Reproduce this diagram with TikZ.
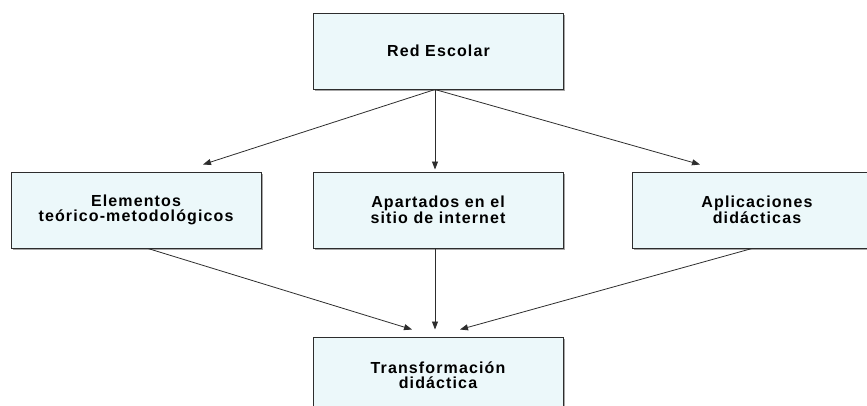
\documentclass[tikz,border=0pt]{standalone}
\usepackage{fontspec}
\setmainfont{Liberation Sans}[LetterSpace=7]
\usetikzlibrary{arrows.meta,calc}
\definecolor{boxfill}{RGB}{236,248,250}
\definecolor{boxline}{RGB}{45,45,45}
\begin{document}
\begin{tikzpicture}[x=1pt,y=1pt,
  box/.style={draw=boxline,line width=1pt,fill=boxfill,minimum width=250pt,minimum height=76pt,
    inner sep=0pt,align=center,font=\fontsize{16}{15.5}\selectfont\bfseries},
  arr/.style={draw=boxline,line width=0.8pt,-{Triangle[length=8pt,width=6pt]}}]
\useasboundingbox (0,0) rectangle (867,-405);
\begin{scope}
\clip (0,0) rectangle (867,-405);
% shadows
\foreach \cx/\cy in {438.5/51, 136/210, 438/210, 757/210, 438/375}{
  \fill[gray!70] (\cx-125+1.5,-\cy-38-1.5) rectangle (\cx+125+1.5,-\cy+38-1.5);
}
\node[box] (top) at (438.5,-51) {Red Escolar};
\node[box] (left) at (136,-210) {Elementos\\teórico-metodológicos};
\node[box] (mid) at (438,-210) {Apartados en el\\sitio de internet};
\node[box] (right) at (757,-210) {Aplicaciones\\didácticas};
\node[box] (bot) at (438,-375) {Transformación\\didáctica};
\end{scope}
\coordinate (src) at ($(top.south)+(-3.5,0)$);
\draw[arr] (src) -- ($(left.north)+(67,7)$);
\draw[arr] (src) -- ($(mid.north)+(-3,2)$);
\draw[arr] (src) -- ($(right.north)+(-57,7)$);
\draw[arr] ($(left.south)+(12,0)$) -- ($(bot.north)+(-26,7)$);
\draw[arr] ($(mid.south)+(-3,0)$) -- ($(bot.north)+(-3,7)$);
\draw[arr] ($(right.south)+(-5,0)$) -- ($(bot.north)+(22,7)$);
\end{tikzpicture}
\end{document}
